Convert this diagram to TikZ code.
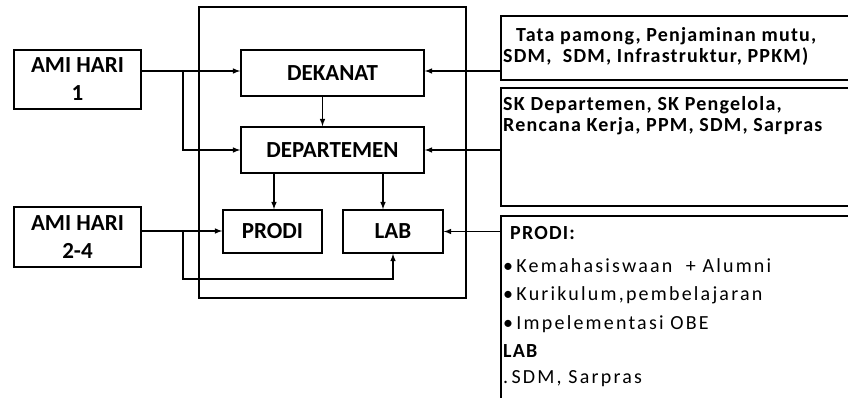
\documentclass[tikz,border=0pt]{standalone}
\usepackage{fontspec}
\setmainfont{Carlito}
\usetikzlibrary{positioning}
\usetikzlibrary{calc}

\newcommand{\boxfont}{\bfseries\fontsize{23}{28}\selectfont}
\newcommand{\infofont}{\bfseries\addfontfeatures{LetterSpace=6}\fontsize{20}{21}\selectfont}
\newcommand{\listfont}{\addfontfeatures{LetterSpace=11}\fontsize{20}{28}\selectfont}

\begin{document}
\begin{tikzpicture}[x=1pt,y=-1pt,
  unit/.style={draw,line width=1.6pt,font=\boxfont,align=center,inner sep=0pt},
  infobox/.style={draw,line width=1.6pt,anchor=north west,inner sep=0pt,minimum width=380pt},
  infotext/.style={anchor=base west,inner sep=0pt},
  arr/.style={line width=1.5pt,-latex}]
\useasboundingbox (0,0) rectangle (848,398);
\clip (0,0) rectangle (848,398);
% outer frame
\node[draw,line width=1.6pt,minimum width=267pt,minimum height=291pt,inner sep=0pt] (fakultas) at (332.5,152.5) {};
% audit days
\node[unit,minimum width=127pt,minimum height=59pt] (hari1) at (77.5,79.5) {AMI HARI\\1};
\node[unit,minimum width=127pt,minimum height=60pt] (hari2) at (77.5,237) {AMI HARI\\2-4};
% units
\node[unit,minimum width=183pt,minimum height=46pt] (dekanat) at (332.5,73) {DEKANAT};
\node[unit,minimum width=183pt,minimum height=46pt] (departemen) at (332.5,150) {DEPARTEMEN};
\node[unit,minimum width=99pt,minimum height=43pt] (prodi) at (272.5,231.5) {PRODI};
\node[unit,minimum width=100pt,minimum height=43pt] (lab) at (393,231.5) {LAB};
% documents
\node[infobox,minimum height=64pt] (dokdekanat) at (500,15) {};
\node[infotext,font=\infofont] (txtdekanat) at (503,42) {\hspace{13pt}Tata pamong, Penjaminan mutu,};
\node[infotext,font=\infofont] (txtdekanat2) at (503,63) {SDM,\ \ SDM, Infrastruktur, PPKM)};
\node[infobox,minimum height=118pt] (dokdept) at (500,87) {};
\node[infotext,font=\infofont] (txtdept) at (503,111) {SK Departemen, SK Pengelola,};
\node[infotext,font=\infofont] (txtdept2) at (503,132) {Rencana Kerja, PPM, SDM, Sarpras};
\node[infobox,minimum height=200pt] (dokprodi) at (500,215) {};
\node[infotext,font=\infofont] (txtprodi) at (510,239) {PRODI:};
\node[infotext,font=\listfont] (txtmhs) at (503,272) {\textbullet\,Kemahasiswaan\ \ + Alumni};
\node[infotext,font=\listfont] (txtkur) at (503,300) {\textbullet\,Kurikulum,pembelajaran};
\node[infotext,font=\listfont] (txtobe) at (503,329) {\textbullet\,Impelementasi OBE};
\node[infotext,font=\infofont] (txtlab) at (503,357) {LAB};
\node[infotext,font=\listfont] (txtsdm) at (503,383) {.\,SDM,\ Sarpras};
% arrows from audit days
\coordinate (split1) at (183,71);
\coordinate (split2) at (183,231);
\draw[arr] (hari1.east |- split1) -- (dekanat.west |- split1);
\draw[arr] (split1) |- (departemen.west);
\draw[arr] (hari2.east |- split2) -- (prodi.west |- split2);
\draw[arr] (split2) -- (183,279) -| (lab.south);
% arrows inside
\draw[arr] (dekanat.south) ++(-10,0) coordinate (d0) -- (d0 |- departemen.north);
\draw[arr] (departemen.south -| prodi.north) ++(1.5,0) coordinate (d1) -- (d1 |- prodi.north);
\draw[arr] (departemen.south -| lab.north) ++(-10,0) coordinate (d2) -- (d2 |- lab.north);
% arrows from documents
\draw[arr] (dokdekanat.west |- split1) -- (dekanat.east |- split1);
\draw[arr] (dokdept.west |- departemen) -- (departemen.east);
\draw[arr] (dokprodi.west |- lab) -- (lab.east);
\end{tikzpicture}
\end{document}
